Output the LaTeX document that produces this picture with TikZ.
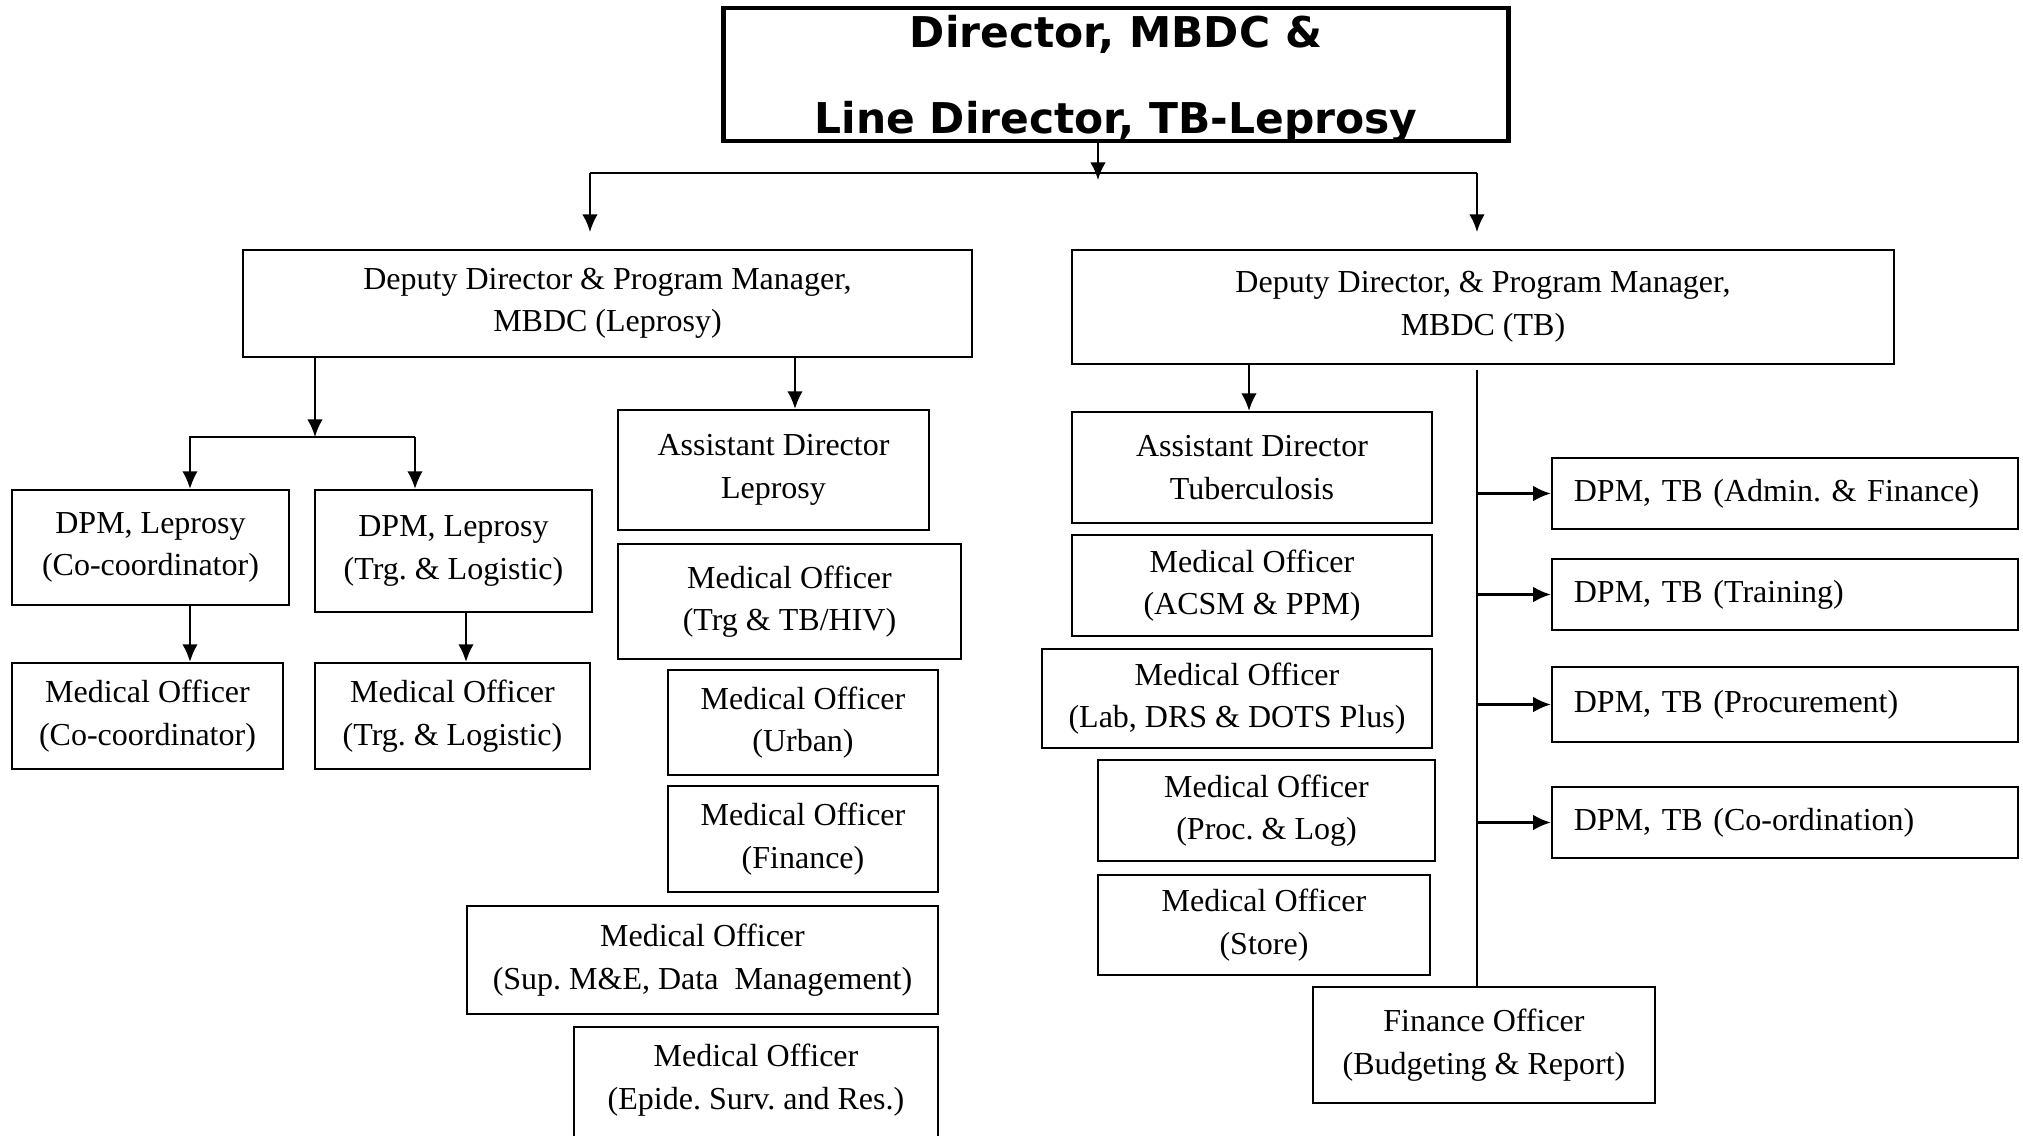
\documentclass[tikz,border=0pt]{standalone}
\usepackage{fontspec}
\setmainfont{Liberation Serif}
\newfontfamily\headfont{DejaVu Sans}
\usetikzlibrary{arrows.meta}
\frenchspacing

\tikzset{
	box/.style={draw, line width=0.6pt, align=center, inner sep=0pt, font=\fontsize{9.1}{12.1}\selectfont},
	dpmbox/.style={box, align=left, text width=4.22cm, minimum height=0.71cm, inner xsep=0.22cm},
	arr/.style={line width=0.6pt, -{Latex[length=5pt,width=4.4pt]}}
}

\begin{document}
\begin{tikzpicture}[x=0.01cm, y=-0.01cm]
		
		\useasboundingbox (0,0) rectangle (2023,1136);
		
		\node[box, line width=1.3pt, font=\headfont\bfseries\fontsize{12.06}{24.5}\selectfont, minimum width=7.84cm, minimum height=1.33cm, text depth=0pt] (dir) at (1116,74.5) {Director, MBDC \&\\Line Director, TB-Leprosy};
		
		\node[box, minimum width=7.29cm, minimum height=1.07cm] (ddl) at (607.5,303.5) {Deputy Director \& Program Manager,\\MBDC (Leprosy)};
		\node[box, minimum width=8.22cm, minimum height=1.14cm] (ddt) at (1483,307) {Deputy Director, \& Program Manager,\\MBDC (TB)};
		
		\node[box, minimum width=2.77cm, minimum height=1.15cm] (dpmc) at (150.5,547.5) {DPM, Leprosy\\(Co-coordinator)};
		\node[box, minimum width=2.77cm, minimum height=1.22cm] (dpmt) at (453.5,551) {DPM, Leprosy\\(Trg. \& Logistic)};
		\node[box, minimum width=2.71cm, minimum height=1.06cm] (moc) at (147.5,716) {Medical Officer\\(Co-coordinator)};
		\node[box, minimum width=2.75cm, minimum height=1.06cm] (mot) at (452.5,716) {Medical Officer\\(Trg. \& Logistic)};
		
		\node[box, minimum width=3.11cm, minimum height=1.20cm] (adl) at (773.5,470) {Assistant Director\\Leprosy};
		\node[box, minimum width=3.43cm, minimum height=1.15cm] (mohiv) at (789.5,601.5) {Medical Officer\\(Trg \& TB/HIV)};
		\node[box, minimum width=2.70cm, minimum height=1.05cm] (mourb) at (803,722.5) {Medical Officer\\(Urban)};
		\node[box, minimum width=2.70cm, minimum height=1.06cm] (mofin) at (803,839) {Medical Officer\\(Finance)};
		\node[box, minimum width=4.71cm, minimum height=1.08cm] (mosup) at (702.5,960) {Medical Officer\\(Sup. M\&E, Data~ Management)};
		\node[box, anchor=north, minimum width=3.64cm, inner ysep=0.17cm, text depth=1.5cm] (moepi) at (756,1026) {Medical Officer\\(Epide. Surv. and Res.)};
		
		\node[box, minimum width=3.60cm, minimum height=1.11cm] (adt) at (1252,467.5) {Assistant Director\\Tuberculosis};
		\node[box, minimum width=3.60cm, minimum height=1.01cm] (moacsm) at (1252,585.5) {Medical Officer\\(ACSM \& PPM)};
		\node[box, minimum width=3.90cm, minimum height=0.99cm] (molab) at (1237,698.5) {Medical Officer\\(Lab, DRS \& DOTS Plus)};
		\node[box, minimum width=3.37cm, minimum height=1.01cm] (moproc) at (1266.5,810.5) {Medical Officer\\(Proc. \& Log)};
		\node[box, minimum width=3.32cm, minimum height=1.00cm] (mostore) at (1264,925) {Medical Officer\\(Store)};
		\node[box, minimum width=3.42cm, minimum height=1.16cm] (fin) at (1484,1045) {Finance Officer\\(Budgeting \& Report)};
		
		\node[dpmbox] (dpma) at (1785,493.5) {DPM, TB (Admin. \& Finance)};
		\node[dpmbox] (dpmtr) at (1785,594.5) {DPM, TB (Training)};
		\node[dpmbox, minimum height=0.75cm] (dpmp) at (1785,704.5) {DPM, TB (Procurement)};
		\node[dpmbox] (dpmco) at (1785,822.5) {DPM, TB (Co-ordination)};
		
		\coordinate (dirlin) at (1098,180);
		\coordinate (bl) at (590,173);
		\coordinate (br) at (1477,173);
		\coordinate (blt) at (590,232);
		\coordinate (brt) at (1477,232);
		\draw[arr] (dirlin |- dir.south) -- (dirlin);
		\draw[line width=0.6pt] (bl) -- (br);
		\draw[arr] (bl) -- (blt);
		\draw[arr] (br) -- (brt);
		
		\coordinate (lj) at (315,437);
		\coordinate (lbl) at (190,437);
		\coordinate (lbr) at (415,437);
		\coordinate (lt) at (466,640);
		\coordinate (la) at (795,380);
		\draw[arr] (lj |- ddl.south) -- (lj);
		\draw[arr] (lbr) -- (lbl) -- (lbl |- dpmc.north);
		\draw[arr] (lbr) -- (lbr |- dpmt.north);
		\draw[arr] (lbl |- dpmc.south) -- (lbl |- moc.north);
		\draw[arr] (lt |- dpmt.south) -- (lt |- mot.north);
		\draw[arr] (la |- ddl.south) -- (la |- adl.north);
		
		\coordinate (ra) at (1249,380);
		\coordinate (vtop) at (1477,370);
		\draw[arr] (ra |- ddt.south) -- (ra |- adt.north);
		\draw[line width=0.45pt] (vtop) -- (vtop |- fin.north);
		\foreach \n in {dpma,dpmtr,dpmp,dpmco}
			\draw[arr] (vtop |- \n.west) -- (\n.west);
		
		\end{tikzpicture}
\end{document}
